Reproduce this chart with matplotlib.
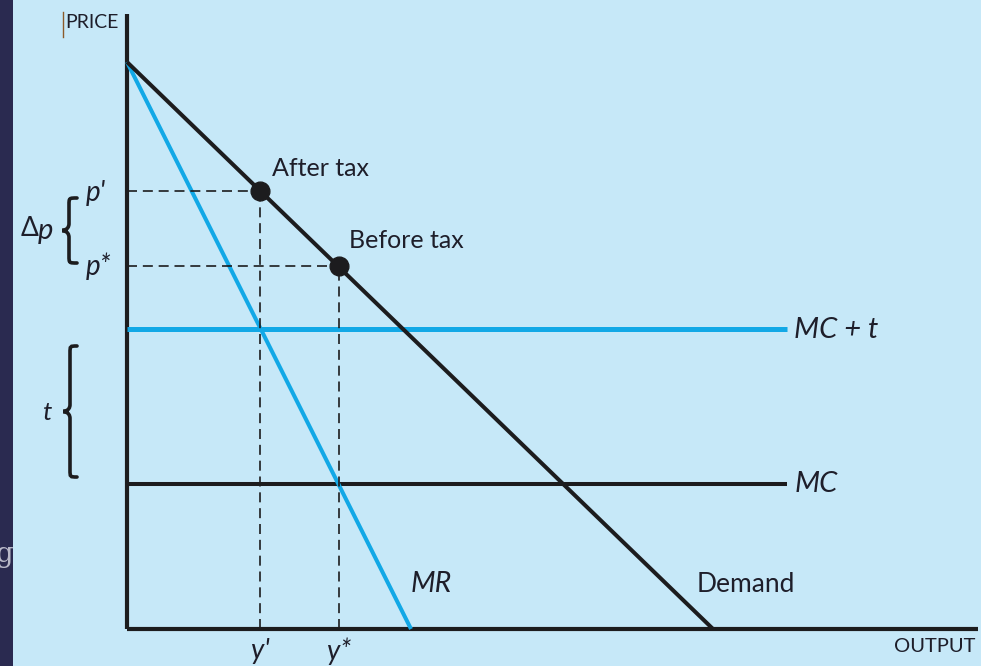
import matplotlib
matplotlib.use("Agg")
import matplotlib.pyplot as plt
from matplotlib.path import Path
from matplotlib.patches import PathPatch, Rectangle

# ---------------------------
# DATA (economic units, origin at the axes corner)
# ---------------------------
demand_q = [0, 586]
demand_p = [567, 0]
mr_q = [0, 284]
mr_p = [567, 0]
mc = 145
mc_tax = 300
q_end = 660
after_tax = (133, 438)   # (y', p')
before_tax = (212, 363)  # (y*, p*)
y_top = 615
x_right = 851

BG = "#c6e8f8"
BLUE = "#12a8e6"
BLACK = "#1c1c1e"
FONT = "Lato"

fig = plt.figure(figsize=(9.81, 6.66), dpi=100, facecolor=BG)
ax = fig.add_axes([0, 0, 1, 1])
ax.set_xlim(-127, 854)
ax.set_ylim(-37, 629)
ax.axis("off")

# dark strip at the left edge
ax.add_patch(Rectangle((0, 0), 13 / 981, 1, transform=fig.transFigure,
                       facecolor="#2a2a50", edgecolor="none", zorder=0))

# axes
ax.plot([0, 0], [0, y_top], color=BLACK, lw=3, solid_capstyle="butt")
ax.plot([0, x_right], [0, 0], color=BLACK, lw=3, solid_capstyle="butt")

# curves
ax.plot([0, q_end], [mc_tax, mc_tax], color=BLUE, lw=3.6, solid_capstyle="butt")
ax.plot([0, q_end], [mc, mc], color=BLACK, lw=2.9, solid_capstyle="butt")
ax.plot(mr_q, mr_p, color=BLUE, lw=2.9, solid_capstyle="butt")
ax.plot(demand_q, demand_p, color=BLACK, lw=2.9, solid_capstyle="butt")

# dashed guides
for q, p in (after_tax, before_tax):
    ax.plot([0, q], [p, p], color=BLACK, lw=1.2, dashes=(6, 3.5))
    ax.plot([q, q], [0, p], color=BLACK, lw=1.2, dashes=(6, 3.5))
    ax.plot(q, p, "o", color=BLACK, ms=13.5, zorder=5)


def brace(x_tip, x_spine, x_end, y0, y1):
    mid = (y0 + y1) / 2
    r = 7
    verts = [(x_end, y1), (x_spine, y1), (x_spine, y1), (x_spine, y1 - r),
             (x_spine, mid + r),
             (x_spine, mid), (x_tip, mid), (x_tip, mid),
             (x_tip, mid), (x_spine, mid), (x_spine, mid - r),
             (x_spine, y0 + r),
             (x_spine, y0), (x_spine, y0), (x_end, y0)]
    codes = [Path.MOVETO, Path.CURVE4, Path.CURVE4, Path.CURVE4,
             Path.LINETO,
             Path.CURVE4, Path.CURVE4, Path.CURVE4,
             Path.CURVE4, Path.CURVE4, Path.CURVE4,
             Path.LINETO,
             Path.CURVE4, Path.CURVE4, Path.CURVE4]
    ax.add_patch(PathPatch(Path(verts, codes), facecolor="none",
                           edgecolor=BLACK, lw=2.6, capstyle="round"))


brace(-65, -58, -50, 366, 431)
brace(-64, -57, -50, 152, 283)

lab = dict(family=FONT, color="#1e1e2a")
ital = dict(family=FONT, style="italic", color="#1e1e2a")

ax.text(-62, 606, "PRICE", fontsize=14, va="center", ha="left", **lab)
ax.plot([-64, -64], [592, 617], color="#8b5a2b", lw=1)
ax.text(848, -18, "OUTPUT", fontsize=14.5, va="center", ha="right", **lab)

ax.text(145, 461, "After tax", fontsize=18, va="center", ha="left", **lab)
ax.text(222, 388, "Before tax", fontsize=18, va="center", ha="left", **lab)
ax.text(570, 45, "Demand", fontsize=19, va="center", ha="left", **lab)
ax.text(284, 45, "MR", fontsize=20.5, va="center", ha="left", **ital)
ax.text(667, 299, "MC + t", fontsize=21, va="center", ha="left", **ital)
ax.text(668, 145, "MC", fontsize=21, va="center", ha="left", **ital)

ax.text(-41, 436, "p'", fontsize=20, va="center", ha="left", **ital)
ax.text(-41, 363, "p*", fontsize=20, va="center", ha="left", **ital)
ax.text(-106, 401, "\u0394", fontsize=19, va="center", ha="left",
        family=[FONT, "DejaVu Sans"], color="#1e1e2a")
ax.text(-89, 398, "p", fontsize=21, va="center", ha="left", **ital)
ax.text(-80, 217, "t", fontsize=19, va="center", ha="center", **ital)

ax.text(after_tax[0], -22, "y'", fontsize=20, va="center", ha="center", **ital)
ax.text(before_tax[0], -22, "y*", fontsize=20, va="center", ha="center", **ital)

ax.text(-114, 74, "g", fontsize=20, va="center", ha="right",
        family="DejaVu Serif", color="#b8b8c8", zorder=3)

fig.savefig("out.png", dpi=100, facecolor=BG)
